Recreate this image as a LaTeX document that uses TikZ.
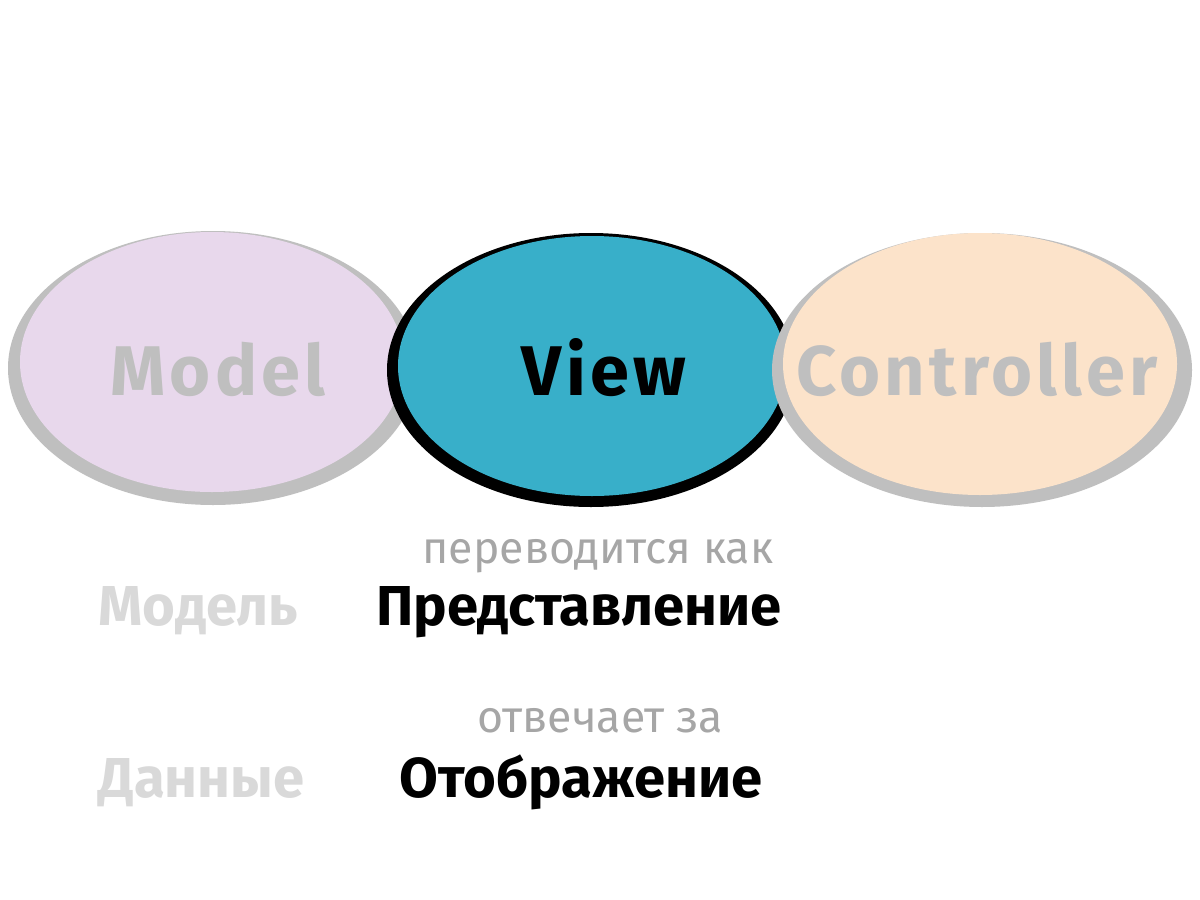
\documentclass[tikz,border=0pt]{standalone}
\usepackage{fontspec}
\setmainfont{Fira Sans}
\newfontfamily\spaced[LetterSpace=6]{Fira Sans}
\definecolor{shadegray}{HTML}{BFBFBF}
\definecolor{modelfill}{HTML}{E8D8EC}
\definecolor{viewfill}{HTML}{38AFC9}
\definecolor{ctrlfill}{HTML}{FCE3CA}
\definecolor{midgray}{HTML}{A6A6A6}
\definecolor{lightgray}{HTML}{D9D9D9}
\begin{document}
\begin{tikzpicture}[x=0.01cm,y=-0.01cm,
  bigword/.style={anchor=base,inner sep=0pt,font=\spaced\bfseries\fontsize{20pt}{24pt}\selectfont},
  small/.style={anchor=base,inner sep=0pt,text=midgray,font=\fontsize{12.7pt}{15pt}\selectfont},
  term/.style={anchor=base,inner sep=0pt,font=\bfseries\fontsize{16pt}{19pt}\selectfont}]
\useasboundingbox[fill=white] (0,0) rectangle (1200,900);
% Model
\fill[shadegray] (213,368) ellipse [x radius=205, y radius=137];
\fill[modelfill] (212,362) ellipse [x radius=192, y radius=130];
% View
\fill[black] (591,370) ellipse [x radius=204, y radius=137];
\fill[viewfill] (592,366) ellipse [x radius=194, y radius=130];
% Controller
\fill[shadegray] (982,370) ellipse [x radius=210, y radius=137];
\fill[ctrlfill] (980,364) ellipse [x radius=197, y radius=131];
% labels
\node[bigword,text=shadegray] (model) at (218,395) {Model};
\node[bigword,text=black] (view) at (604,395) {View};
\node[bigword,text=shadegray] (ctrl) at (977,395) {Controller};
\node[small] (tr1) at (598,563) {переводится как};
\node[term,text=lightgray,anchor=base west] (modru) at (98,625) {Модель};
\node[term,text=black] (viewru) at (579,625) {Представление};
\node[small] (tr2) at (600,732) {отвечает за};
\node[term,text=lightgray,anchor=base west] (datru) at (98,797) {Данные};
\node[term,text=black] (dispru) at (581,797) {Отображение};
\end{tikzpicture}
\end{document}
